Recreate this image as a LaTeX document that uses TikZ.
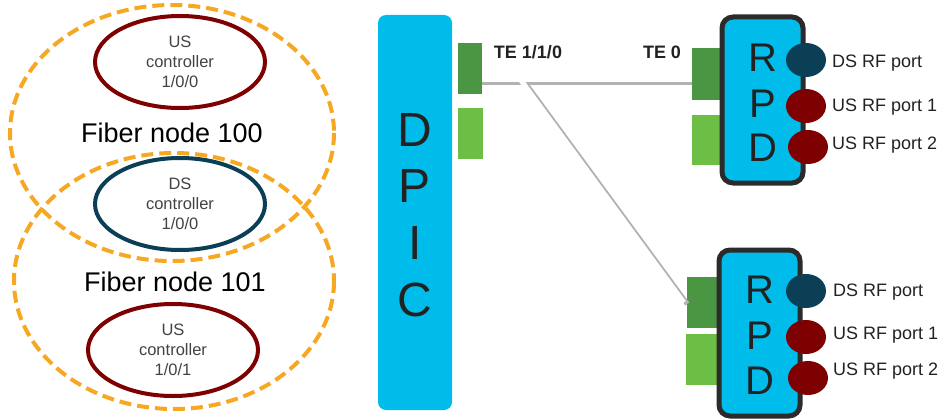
\documentclass[tikz,border=0pt]{standalone}
\usepackage{fontspec}
\setmainfont{Liberation Sans}
\usetikzlibrary{shapes.geometric}
\definecolor{fnorange}{HTML}{F7A823}
\definecolor{usred}{HTML}{7F0000}
\definecolor{dsteal}{HTML}{0B3F56}
\definecolor{cyanbox}{HTML}{00BCEB}
\definecolor{dkgreen}{HTML}{4A9642}
\definecolor{ltgreen}{HTML}{6DBE45}
\definecolor{txt}{HTML}{222222}
\definecolor{rpdborder}{HTML}{2B2B2B}
\tikzset{
  ctrl/.style={ellipse, draw=#1, line width=4pt, minimum width=170pt, minimum height=92pt, inner sep=0pt, align=center, font=\fontsize{16.5}{20}\selectfont, text=txt!85},
  fiberline/.style={fnorange, line width=4pt, dash pattern=on 12pt off 6pt},
  fntext/.style={font=\fontsize{27}{30}\selectfont, text=black},
  bigletter/.style={font=\fontsize{#1}{#1}\selectfont, text=txt, inner sep=0pt},
  portsq/.style={fill=#1, draw=none, inner sep=0pt},
  rfport/.style={ellipse, fill=#1, draw=none, minimum width=40pt, minimum height=34pt, inner sep=0pt},
  portlbl/.style={anchor=west, font=\fontsize{18}{20}\selectfont, text=txt, inner sep=0pt},
  telbl/.style={font=\bfseries\fontsize{18}{20}\selectfont, text=txt, inner sep=0pt},
  rpdbox/.style={draw=rpdborder, fill=cyanbox, line width=5pt, rounded corners=11pt},
  fibre/.style={line width=5pt, draw=white},
  fibreshadow/.style={line width=5pt, draw=black!30},
}
\begin{document}
\begin{tikzpicture}[x=1pt,y=-1pt]
\useasboundingbox (0,0) rectangle (942,420);
% ---------------- left: fiber nodes ----------------
\node[ctrl=usred] (us0) at (180,62) {US\\controller\\1/0/0};
\node[ctrl=dsteal] (ds0) at (180,204) {DS\\controller\\1/0/0};
\node[ctrl=usred] (us1) at (173,350) {US\\controller\\1/0/1};
\draw[fiberline] (172,133) ellipse [x radius=162, y radius=128];
\draw[fiberline] (174,281) ellipse [x radius=160, y radius=128];
\node[fntext] (fn100) at (172,133) {Fiber node 100};
\node[fntext] (fn101) at (175,282) {Fiber node 101};
% ---------------- DPIC ----------------
\path[fill=cyanbox, rounded corners=8pt] (378,15) rectangle (452,410);
\node[bigletter=48] (dD) at (415,130) {D};
\node[bigletter=48] (dP) at (415,186) {P};
\node[bigletter=48] (dI) at (415,243) {I};
\node[bigletter=48] (dC) at (415,300) {C};
\node[portsq=dkgreen, minimum width=24pt, minimum height=51pt] (dpA) at (470,68.5) {};
\node[portsq=ltgreen, minimum width=25pt, minimum height=51pt] (dpB) at (470.5,133.5) {};
\node[telbl] (te110) at (528,52) {TE 1/1/0};
\node[telbl] (te0) at (662,52) {TE 0};
% ---------------- RPD 1 ----------------
\node[portsq=dkgreen, minimum width=33pt, minimum height=52pt] (r1A) at (708.5,74) {};
\node[portsq=ltgreen, minimum width=33pt, minimum height=50pt] (r1B) at (708.5,140) {};
\draw[rpdbox] (722,17) rectangle (803,183);
\node[bigletter=40] (r1R) at (763,58) {R};
\node[bigletter=40] (r1P) at (763,104) {P};
\node[bigletter=40] (r1D) at (763,148) {D};
\node[rfport=dsteal] (r1ds) at (806,60) {};
\node[rfport=usred] (r1u1) at (806,106) {};
\node[rfport=usred] (r1u2) at (808,147) {};
\node[portlbl] (l1ds) at (832,63) {DS RF port};
\node[portlbl] (l1u1) at (832,107) {US RF port 1};
\node[portlbl] (l1u2) at (832,145) {US RF port 2};
% ---------------- RPD 2 ----------------
\node[portsq=dkgreen, minimum width=33pt, minimum height=51pt] (r2A) at (703.5,302.5) {};
\node[portsq=ltgreen, minimum width=33pt, minimum height=51pt] (r2B) at (702.5,359.5) {};
\draw[rpdbox] (719,250) rectangle (800,416);
\node[bigletter=40] (r2R) at (760,290) {R};
\node[bigletter=40] (r2P) at (760,336) {P};
\node[bigletter=40] (r2D) at (760,381) {D};
\node[rfport=dsteal] (r2ds) at (806,291) {};
\node[rfport=usred] (r2u1) at (806,337) {};
\node[rfport=usred] (r2u2) at (808,378) {};
\node[portlbl] (l2ds) at (833,292) {DS RF port};
\node[portlbl] (l2u1) at (833,335) {US RF port 1};
\node[portlbl] (l2u2) at (833,371) {US RF port 2};
% ---------------- fibre links ----------------
\coordinate (split) at (520,79);
\coordinate (hA) at (dpA.east |- split);
\coordinate (hB) at (r1A.west |- split);
\coordinate (dEnd) at ([xshift=-3pt]r2A.west);
\draw[fibreshadow] ([yshift=-3.5pt]hA) -- ([yshift=-3.5pt]hB);
\draw[fibreshadow] ([xshift=3.5pt,yshift=-1.5pt]split) -- ([xshift=3.5pt,yshift=-1.5pt]dEnd);
\draw[fibre] (hA) -- (hB);
\draw[fibre] (split) -- (dEnd);
\end{tikzpicture}
\end{document}
